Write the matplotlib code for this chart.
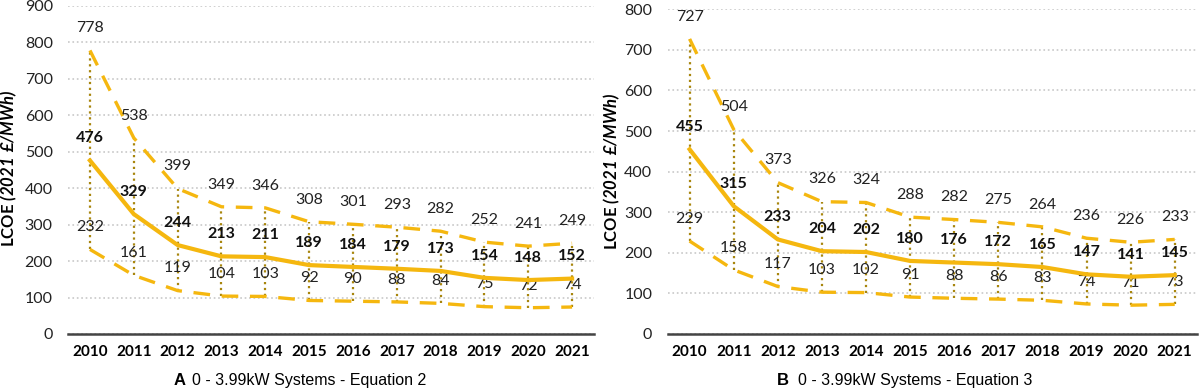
import matplotlib
matplotlib.use("Agg")
import matplotlib.pyplot as plt

years = ["2010", "2011", "2012", "2013", "2014", "2015",
         "2016", "2017", "2018", "2019", "2020", "2021"]

# Panel A - Equation 2
a_high = [778, 538, 399, 349, 346, 308, 301, 293, 282, 252, 241, 249]
a_mid = [476, 329, 244, 213, 211, 189, 184, 179, 173, 154, 148, 152]
a_low = [232, 161, 119, 104, 103, 92, 90, 88, 84, 75, 72, 74]

# Panel B - Equation 3
b_high = [727, 504, 373, 326, 324, 288, 282, 275, 264, 236, 226, 233]
b_mid = [455, 315, 233, 204, 202, 180, 176, 172, 165, 147, 141, 145]
b_low = [229, 158, 117, 103, 102, 91, 88, 86, 83, 74, 71, 73]

GOLD = "#F5B70F"
DOT = "#A8860E"
FONT = "Lato"

plt.rcParams["font.family"] = [FONT, "DejaVu Sans"]
plt.rcParams["mathtext.fontset"] = "custom"
plt.rcParams["mathtext.bfit"] = "Lato:italic:bold"
plt.rcParams["mathtext.bf"] = "Lato:bold"
plt.rcParams["mathtext.rm"] = "Lato"


def draw_panel(ax, high, mid, low, ymax, label_xy):
    x = list(range(len(years)))
    for i in x:
        ax.plot([i, i], [low[i], high[i]], color=DOT, linestyle=":",
                linewidth=1.6, zorder=2)
    ax.plot(x, high, color=GOLD, linestyle=(0, (5, 3.5)), linewidth=2.4, zorder=3)
    ax.plot(x, low, color=GOLD, linestyle=(0, (5, 3.5)), linewidth=2.4, zorder=3)
    ax.plot(x, mid, color=GOLD, linewidth=3, zorder=4)

    for i in x:
        ax.annotate(str(high[i]), (i, high[i]), xytext=(0, 16),
                    textcoords="offset points", ha="center", va="center",
                    fontsize=11.5, color="#222222")
        ax.annotate(str(mid[i]), (i, mid[i]), xytext=(0, 16),
                    textcoords="offset points", ha="center", va="center",
                    fontsize=11.5, fontweight="bold", color="#111111", zorder=5)
        ax.annotate(str(low[i]), (i, low[i]), xytext=(0, 16),
                    textcoords="offset points", ha="center", va="center",
                    fontsize=11.5, color="#222222")

    ax.set_xlim(-0.5, len(years) - 0.5)
    ax.set_ylim(0, ymax)
    ax.set_yticks(range(0, ymax + 1, 100))
    ax.set_xticks(x)
    ax.set_xticklabels(years, fontweight="bold", fontsize=11)
    ax.tick_params(axis="y", labelsize=11.5, length=0, pad=11, colors="#222222")
    ax.tick_params(axis="x", length=0, pad=8)
    ax.grid(axis="y", color="#C8C8C8", linestyle=":", linewidth=1.2)
    ax.set_axisbelow(True)
    for side in ["top", "right", "left"]:
        ax.spines[side].set_visible(False)
    ax.spines["bottom"].set_color("#444444")
    ax.spines["bottom"].set_linewidth(1.8)
    ax.set_ylabel(r"LCOE $\mathbfit{(2021\ £/MWh)}$", fontweight="bold",
                  fontsize=12)
    ax.yaxis.set_label_coords(*label_xy)


fig = plt.figure(figsize=(12, 3.91), dpi=100)
ax_a = fig.add_axes([0.0567, 0.1458, 0.4383, 0.839])
ax_b = fig.add_axes([0.5563, 0.1458, 0.441, 0.8304])

draw_panel(ax_a, a_high, a_mid, a_low, 900, (-0.093, 0.505))
draw_panel(ax_b, b_high, b_mid, b_low, 800, (-0.086, 0.5))

fig.text(0.1445, 0.028, "A", fontweight="bold", fontsize=12,
         family="Liberation Sans", va="center")
fig.text(0.160, 0.028, "0 - 3.99kW Systems - Equation 2", fontsize=11.5,
         family="Liberation Sans", va="center")
fig.text(0.6475, 0.028, "B", fontweight="bold", fontsize=12,
         family="Liberation Sans", va="center")
fig.text(0.665, 0.028, "0 - 3.99kW Systems - Equation 3", fontsize=11.5,
         family="Liberation Sans", va="center")

fig.savefig("out.png", dpi=100)
